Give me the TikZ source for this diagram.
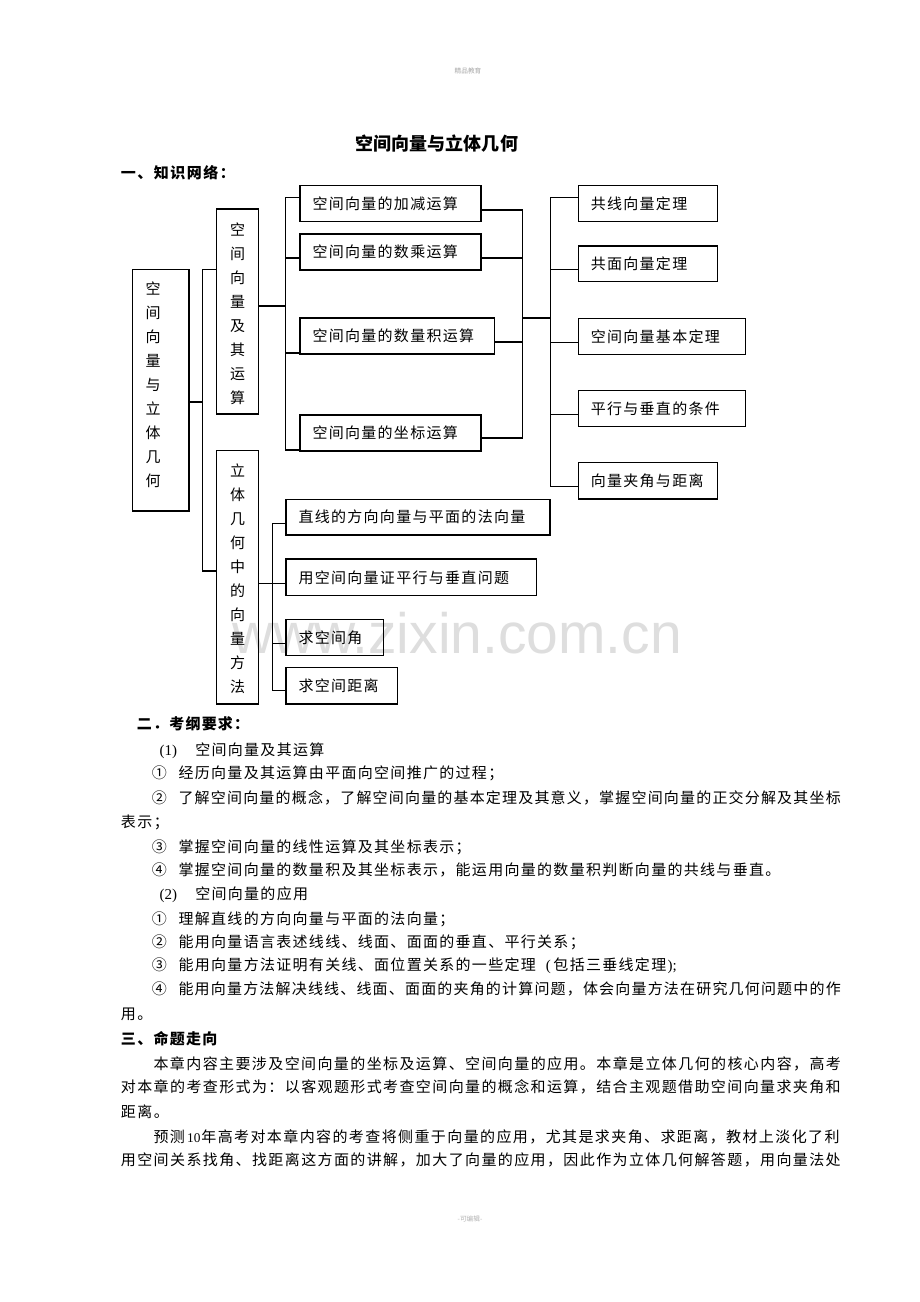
\documentclass[tikz,border=0pt]{standalone}
\usepackage{fontspec}
\setmainfont{Noto Sans CJK SC}
\newfontfamily\wmfont{Liberation Sans}
\newfontfamily\lat{Liberation Serif}
\newdimen\px \px=0.75pt
\ExplSyntaxOn
\NewDocumentCommand\gl{mm}{\tl_map_inline:nn{#2}{\makebox[#1\px][l]{##1}}}
\ExplSyntaxOff
\tikzset{
  ln/.style={line width=0.8pt},
  bxs/.style={draw, line width=0.8pt, inner sep=0pt, font=\fontsize{11.25pt}{13pt}\selectfont},
  tx/.style={anchor=base west, inner sep=0pt, font=\fontsize{11.25pt}{13pt}\selectfont},
  hd/.style={anchor=base west, inner sep=0pt, font=\fontsize{11.25pt}{13pt}\selectfont\bfseries},
  vt/.style={inner sep=0pt, align=center, font=\fontsize{11.25pt}{18pt}\selectfont},
}
\newcommand\bx[6]{%
  \pgfmathsetlengthmacro\bxw{(#4-#2)*0.75pt}%
  \pgfmathsetlengthmacro\bxh{(#5-#3)*0.75pt}%
  \pgfmathsetlengthmacro\bxt{(#4-#2-25)*0.75pt}%
  \node[bxs, minimum width=\bxw, minimum height=\bxh] (#1) at ({(#2+#4)/2},{(#3+#5)/2}) {\makebox[\bxt][l]{\gl{16.3}{#6}}};}
\newcommand\vbx[5]{%
  \pgfmathsetlengthmacro\bxw{(#4-#2)*0.75pt}%
  \pgfmathsetlengthmacro\bxh{(#5-#3)*0.75pt}%
  \node[bxs, minimum width=\bxw, minimum height=\bxh] (#1) at ({(#2+#4)/2},{(#3+#5)/2}) {};}
\newcommand\txl[4]{\node[tx] (#1) at (#2,{#3+5.7}) {#4};}
\newcommand\hdl[4]{\node[hd] (#1) at (#2,{#3+5.7}) {#4};}
\newcommand\cn[1]{\makebox[26.6\px][l]{#1}}
\begin{document}
\begin{tikzpicture}[x=0.75pt,y=-0.75pt]
\useasboundingbox (0,0) rectangle (920,1302);
\fill[white] (0,0) rectangle (920,1302);
% watermark
\node[anchor=base west, inner sep=0pt, font=\wmfont\fontsize{42.75pt}{50pt}\selectfont, text=black!13] (wm) at (232,653) {www.zixin.com.cn};
% header / footer
\node[inner sep=0pt, font=\fontsize{5pt}{6pt}\selectfont, text=black!35] (hdr) at (468,71) {精品教育};
\node[inner sep=0pt, font=\fontsize{5pt}{6pt}\selectfont, text=black!30] (ftr) at (470,1219) {-可编辑-};
% title
\node[anchor=base west, inner sep=0pt, font=\fontsize{13.5pt}{16pt}\selectfont\bfseries] (title) at (355,150.8) {\gl{18.1}{空间向量与立体几何}};
\hdl{h1}{120.7}{173.3}{\gl{16.5}{一、知识网络：}}
% boxes
\vbx{A}{132.7}{269.3}{189}{511}
\vbx{B}{216.7}{209}{258.3}{414}
\vbx{C}{216.7}{450.7}{258.3}{704}
\node[vt] (Alab) at (153,385) {空\\间\\向\\量\\与\\立\\体\\几\\何};
\node[vt] (Blab) at (237.5,314) {空\\间\\向\\量\\及\\其\\运\\算};
\node[vt] (Clab) at (237.5,578.3) {立\\体\\几\\何\\中\\的\\向\\量\\方\\法};
\bx{b1}{300}{185.7}{481}{221.7}{空间向量的加减运算}
\bx{b2}{300}{234}{481}{270}{空间向量的数乘运算}
\bx{b3}{300}{318}{494.7}{354}{空间向量的数量积运算}
\bx{b4}{300}{415}{481}{451}{空间向量的坐标运算}
\bx{t1}{578.3}{185.7}{717.3}{221.7}{共线向量定理}
\bx{t2}{578.3}{246}{717.3}{281.7}{共面向量定理}
\bx{t3}{578.3}{318.3}{745.7}{354.3}{空间向量基本定理}
\bx{t4}{578.3}{390.7}{745.7}{426.7}{平行与垂直的条件}
\bx{t5}{578.3}{462.7}{717.3}{499}{向量夹角与距离}
\bx{c1}{286}{499.3}{550}{535}{直线的方向向量与平面的法向量}
\bx{c2}{286}{559}{536.7}{595.7}{用空间向量证平行与垂直问题}
\bx{c3}{286}{619.3}{383.3}{655.7}{求空间角}
\bx{c4}{286}{667.7}{397.3}{704}{求空间距离}
% junctions
\coordinate (jA) at (202.7,402);
\coordinate (jAt) at (202.7,269.3);
\coordinate (jAb) at (202.7,571);
\coordinate (jB) at (285.7,306);
\coordinate (jB1) at (285.7,197.7);
\coordinate (jB2) at (285.7,258);
\coordinate (jB3) at (285.7,353);
\coordinate (jB4) at (285.7,450);
\coordinate (jR) at (522.7,318);
\coordinate (jR1) at (522.7,210);
\coordinate (jR2) at (522.7,258);
\coordinate (jR3) at (522.7,342);
\coordinate (jR4) at (522.7,438);
\coordinate (jT) at (550.7,318);
\coordinate (jT1) at (550.7,197.7);
\coordinate (jT2) at (550.7,269.3);
\coordinate (jT3) at (550.7,342.3);
\coordinate (jT4) at (550.7,414.3);
\coordinate (jT5) at (550.7,486.7);
\coordinate (jC) at (272.3,583.3);
\coordinate (jC1) at (272.3,523.3);
\coordinate (jC3) at (272.3,643.3);
\coordinate (jC4) at (272.3,690.7);
% connectors
\draw[ln] (A.east |- jA) -- (jA);
\draw[ln] (B.west |- jAt) -- (jAt) -- (jAb) -- (C.west |- jAb);
\draw[ln] (B.east |- jB) -- (jB);
\draw[ln] (b1.west |- jB1) -- (jB1) -- (jB4) -- (b4.west |- jB4);
\draw[ln] (jB2) -- (b2.west |- jB2);
\draw[ln] (jB3) -- (b3.west |- jB3);
\draw[ln] (b1.east |- jR1) -- (jR1) -- (jR4) -- (b4.east |- jR4);
\draw[ln] (b2.east |- jR2) -- (jR2);
\draw[ln] (b3.east |- jR3) -- (jR3);
\draw[ln] (jR) -- (jT);
\draw[ln] (t1.west |- jT1) -- (jT1) -- (jT5) -- (t5.west |- jT5);
\draw[ln] (jT2) -- (t2.west |- jT2);
\draw[ln] (jT3) -- (t3.west |- jT3);
\draw[ln] (jT4) -- (t4.west |- jT4);
\draw[ln] (C.east |- jC) -- (jC) -- (c2.west |- jC);
\draw[ln] (c1.west |- jC1) -- (jC1) -- (jC4) -- (c4.west |- jC4);
\draw[ln] (jC3) -- (c3.west |- jC3);
% section 2
\hdl{h2}{136.7}{724}{\gl{16.2}{二．考纲要求：}}
\txl{s1}{159.3}{749.3}{\makebox[35.7\px][l]{\lat(1)}\gl{16.3}{空间向量及其运算}}
\txl{s1a}{151.7}{772.7}{\cn{①}\gl{16.3}{经历向量及其运算由平面向空间推广的过程；}}
\txl{s1b}{151.7}{797.3}{\cn{②}\gl{16.18}{了解空间向量的概念，了解空间向量的基本定理及其意义，掌握空间向量的正交分解及其坐标}}
\txl{s1b2}{120.7}{821.7}{\gl{16.4}{表示；}}
\txl{s1c}{151.7}{846.7}{\cn{③}\gl{16.3}{掌握空间向量的线性运算及其坐标表示；}}
\txl{s1d}{151.7}{870}{\cn{④}\gl{16.3}{掌握空间向量的数量积及其坐标表示，能运用向量的数量积判断向量的共线与垂直。}}
\txl{s2}{159.3}{893.3}{\makebox[35.7\px][l]{\lat(2)}\gl{16.3}{空间向量的应用}}
\txl{s2a}{151.7}{918.3}{\cn{①}\gl{16.3}{理解直线的方向向量与平面的法向量；}}
\txl{s2b}{151.7}{941.7}{\cn{②}\gl{16.3}{能用向量语言表述线线、线面、面面的垂直、平行关系；}}
\txl{s2c}{151.7}{965}{\cn{③}\gl{16.3}{能用向量方法证明有关线、面位置关系的一些定理}\makebox[16.3\px][r]{\lat(\,}\gl{16.3}{包括三垂线定理}{\lat);}}
\txl{s2d}{151.7}{988.3}{\cn{④}\gl{16.18}{能用向量方法解决线线、线面、面面的夹角的计算问题，体会向量方法在研究几何问题中的作}}
\txl{s2d2}{120.7}{1013.3}{\gl{16.4}{用。}}
% section 3
\hdl{h3}{120.7}{1038.3}{\gl{16.3}{三、命题走向}}
\txl{p1}{153.3}{1063.3}{\gl{16.4}{本章内容主要涉及空间向量的坐标及运算、空间向量的应用。本章是立体几何的核心内容，高考}}
\txl{p2}{120.7}{1086.7}{\gl{16.39}{对本章的考查形式为：以客观题形式考查空间向量的概念和运算，结合主观题借助空间向量求夹角和}}
\txl{p3}{120.7}{1111.7}{\gl{16.4}{距离。}}
\txl{p4}{153.3}{1136.7}{\gl{16.4}{预测}\makebox[15\px][c]{\lat\fontsize{10pt}{12pt}\selectfont 10}\gl{16.4}{年高考对本章内容的考查将侧重于向量的应用，尤其是求夹角、求距离，教材上淡化了利}}
\txl{p5}{120.7}{1160}{\gl{16.39}{用空间关系找角、找距离这方面的讲解，加大了向量的应用，因此作为立体几何解答题，用向量法处}}
\end{tikzpicture}
\end{document}
